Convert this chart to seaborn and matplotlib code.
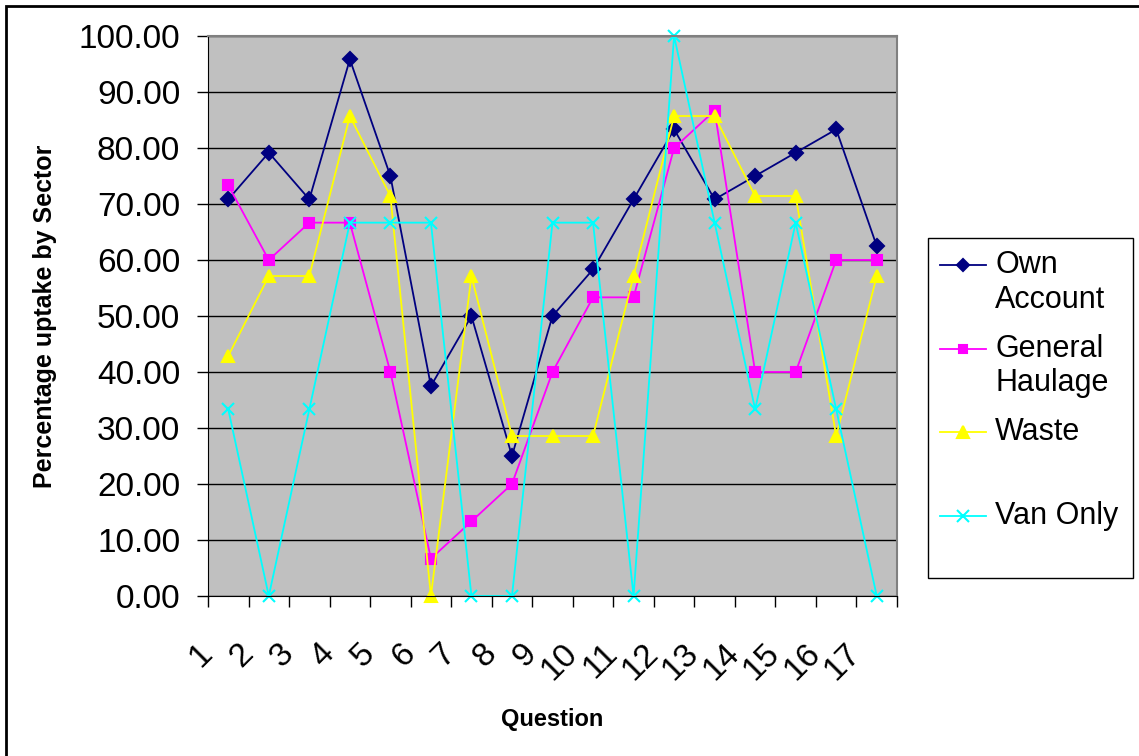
import numpy as np
import pandas as pd
import matplotlib.pyplot as plt
import matplotlib.transforms as mtransforms
import seaborn as sns
from matplotlib.patches import Rectangle

plt.rcParams['font.family'] = ['Liberation Sans', 'DejaVu Sans']

questions = [str(q) for q in range(1, 18)]
own_account = [70.83, 79.17, 70.83, 95.83, 75.00, 37.50, 50.00, 25.00, 50.00,
               58.33, 70.83, 83.33, 70.83, 75.00, 79.17, 83.33, 62.50]
general_haulage = [73.33, 60.00, 66.67, 66.67, 40.00, 6.67, 13.33, 20.00, 40.00,
                   53.33, 53.33, 80.00, 86.67, 40.00, 40.00, 60.00, 60.00]
waste = [42.86, 57.14, 57.14, 85.71, 71.43, 0.00, 57.14, 28.57, 28.57,
         28.57, 57.14, 85.71, 85.71, 71.43, 71.43, 28.57, 57.14]
van_only = [33.33, 0.00, 33.33, 66.67, 66.67, 66.67, 0.00, 0.00, 66.67,
            66.67, 0.00, 100.00, 66.67, 33.33, 66.67, 33.33, 0.00]

sectors = ["Own Account", "General Haulage", "Waste", "Van Only"]
legend_labels = ["Own\nAccount", "General\nHaulage", "Waste\n ", "Van Only\n "]
colors = ["#000080", "#FF00FF", "#FFFF00", "#00FFFF"]
markers = ["D", "s", "^", "x"]
msizes = [7, 7, 9, 9]

df = pd.DataFrame({"Own Account": own_account, "General Haulage": general_haulage,
                   "Waste": waste, "Van Only": van_only})
df["pos"] = np.arange(len(questions))

fig = plt.figure(figsize=(11.39, 7.56), dpi=100)
ax = fig.add_axes([208/1139, 1 - 596/756, 689/1139, 560/756])
ax.set_facecolor("#C0C0C0")

handles = []
for s, c, m, ms in zip(sectors, colors, markers, msizes):
    sns.lineplot(data=df, x="pos", y=s, color=c, marker=m, markersize=ms,
                 markeredgecolor=c, markeredgewidth=1.5, linewidth=1.3,
                 clip_on=False, ax=ax, label=s)
    handles.append(ax.lines[-1])

ax.set_xlim(-0.5, len(questions) - 0.5)
ax.set_ylim(0, 100)
ax.set_yticks(np.arange(0, 101, 10))
ax.set_yticklabels([f"{v:.2f}" for v in np.arange(0, 101, 10)])
ax.tick_params(axis="y", direction="out", length=8, width=1, pad=12, labelsize=24)

ax.set_xticks(np.arange(-0.5, len(questions), 1))
ax.set_xticklabels([])
ax.tick_params(axis="x", which="major", direction="out", length=8, width=1)
ax.set_xticks(np.arange(len(questions)), minor=True)
ax.set_xticklabels(questions, minor=True, rotation=45, ha="right", va="top")
ax.tick_params(axis="x", which="minor", length=0, pad=30, labelsize=24)
shift = mtransforms.ScaledTranslation(-7/72, 0, fig.dpi_scale_trans)
for lbl in ax.get_xticklabels(minor=True):
    lbl.set_transform(lbl.get_transform() + shift)

ax.yaxis.grid(True, color="black", linewidth=1)
ax.set_axisbelow(True)
for side in ["left", "bottom"]:
    ax.spines[side].set_color("black")
for side in ["top", "right"]:
    ax.spines[side].set_color("#808080")
    ax.spines[side].set_linewidth(1.5)

ax.set_xlabel("Question", fontsize=17, fontweight="bold")
ax.xaxis.set_label_coords(0.5, -0.2)
ax.set_ylabel("Percentage uptake by Sector", fontsize=18, fontweight="bold")
ax.yaxis.set_label_coords(-0.219, 0.5)

leg_fs = 22
leg = ax.legend(handles, legend_labels, loc="upper left", mode="expand",
                bbox_to_anchor=(928/1139, 1 - 577/756, 205/1139, 339/756),
                bbox_transform=fig.transFigure, borderaxespad=0, fontsize=leg_fs,
                frameon=True, fancybox=False, framealpha=1, edgecolor="black",
                handlelength=1.5, handletextpad=0.3, borderpad=0.4, labelspacing=0.62)
leg.get_frame().set_linewidth(1)
for h in leg.legend_handles:
    h.set_ydata(np.asarray(h.get_ydata()) + 0.6 * leg_fs)
    h.set_markersize(h.get_markersize() * 0.9)

fig.patches.append(Rectangle((6/1139, -0.1), 2, 1.1 - 6/756, transform=fig.transFigure,
                             fill=False, edgecolor="black", linewidth=2))

fig.savefig("out.png", dpi=100)
